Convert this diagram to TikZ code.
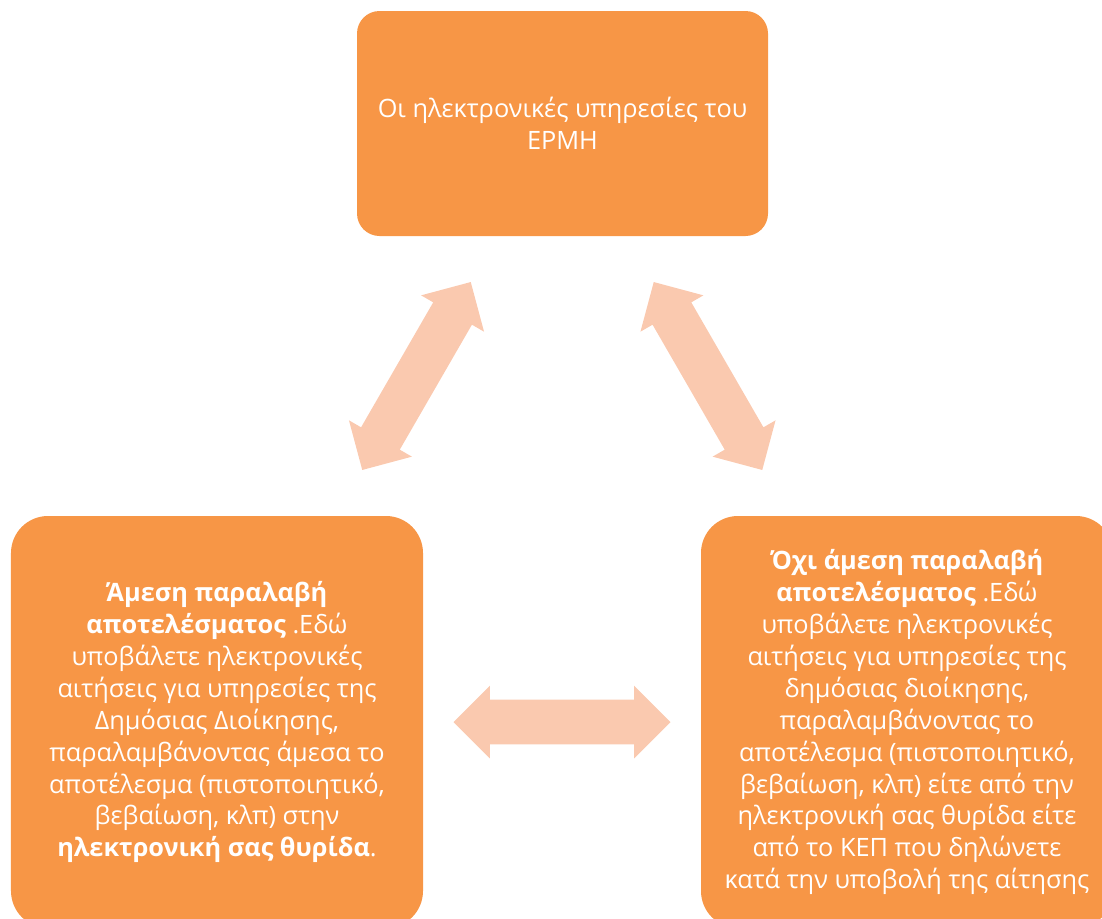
\documentclass[tikz,border=0pt]{standalone}
\usepackage{fontspec}
\setmainfont{Open Sans}
\usepackage{tikz}
\usetikzlibrary{positioning, calc}
\usetikzlibrary{shapes.arrows}
\definecolor{boxorange}{HTML}{F79646}
\definecolor{peach}{HTML}{FAC9AF}
\tikzstyle{process} = [rectangle, rounded corners=0.45cm, minimum width=8.22cm, minimum height=4.5cm, text centered, fill=boxorange, text=white, align=center, font=\fontsize{14.4}{18.2}\selectfont]
\tikzstyle{process2} = [rectangle, rounded corners=0.74cm, minimum width=8.24cm, minimum height=8.24cm, text centered, fill=boxorange, text=white, align=center, font=\fontsize{14.4}{18.2}\selectfont]
\tikzstyle{bigarrow} = [double arrow, double arrow head extend=0.28cm, double arrow tip angle=90, minimum height=4.34cm, inner xsep=0pt, inner ysep=0.44cm, fill=peach]

\begin{document}
\begin{tikzpicture}[node distance=0cm]
    \useasboundingbox (0,0) rectangle (22.04,-18.38);
    \clip (0,0) rectangle (22.04,-18.38);

    \node (proc1) [process] at (11.25,-2.47) {Οι ηλεκτρονικές υπηρεσίες του\\ΕΡΜΗ};

    \node (proc2) [process2, below of = proc1, xshift=-6.91cm, yshift=-11.97cm]{\textbf{Άμεση παραλαβή}\\
    \textbf{αποτελέσματος} .Εδώ\\
    υποβάλετε ηλεκτρονικές\\
    αιτήσεις για υπηρεσίες της\\
    Δημόσιας Διοίκησης,\\
    παραλαμβάνοντας άμεσα το\\
    αποτέλεσμα (πιστοποιητικό,\\
    βεβαίωση, κλπ) στην\\
    \textbf{ηλεκτρονική σας θυρίδα}.};

    \node (proc3) [process2, right of = proc2, xshift=13.8cm]{\textbf{Όχι άμεση παραλαβή}\\
    \textbf{αποτελέσματος} .Εδώ\\
    υποβάλετε ηλεκτρονικές\\
    αιτήσεις για υπηρεσίες της\\
    δημόσιας διοίκησης,\\
    παραλαμβάνοντας το\\
    αποτέλεσμα (πιστοποιητικό,\\
    βεβαίωση, κλπ) είτε από την\\
    ηλεκτρονική σας θυρίδα είτε\\
    από το ΚΕΠ που δηλώνετε\\
    κατά την υποβολή της αίτησης};

    \node (arr1) [bigarrow, rotate=60] at ($(proc2.north east)!0.5!(proc1.south west)+(0.53,0)$) {};
    \node (arr2) [bigarrow, rotate=-60] at ($(proc3.north west)!0.5!(proc1.south east)+(-0.53,0)$) {};
    \node (arr3) [bigarrow] at ($(proc2.east)!0.5!(proc3.west)$) {};

\end{tikzpicture}
\end{document}
